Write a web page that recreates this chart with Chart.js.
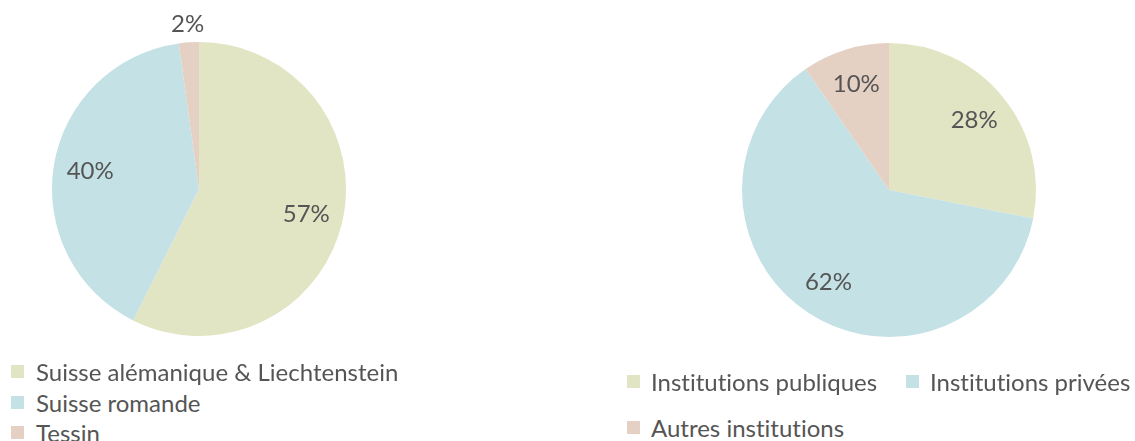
<!DOCTYPE html>
<html><head><meta charset="utf-8">
<script src="https://cdn.jsdelivr.net/npm/chart.js@4"></script>
<style>
html,body{margin:0;padding:0;background:#fff;width:1135px;height:441px;overflow:hidden;font-family:Lato,sans-serif;}
#c1{position:absolute;left:0;top:0;}
#c2{position:absolute;left:700px;top:0;}
.leg{position:absolute;display:flex;align-items:center;font-size:24px;color:#555;white-space:nowrap;height:28px;line-height:28px;font-variant-ligatures:none;font-feature-settings:"liga" 0;}
.leg i{display:inline-block;width:13px;height:13px;flex:none;}
</style></head><body>
<canvas id="c1" width="398" height="378"></canvas>
<canvas id="c2" width="378" height="378"></canvas>
<div id="legends"></div>
<script>
const regionLabels = ['Suisse alémanique & Liechtenstein', 'Suisse romande', 'Tessin'];
const regionValues = [57.4, 40.4, 2.2];
const institutionLabels = ['Institutions publiques', 'Institutions privées', 'Autres institutions'];
const institutionValues = [28.1, 62.3, 9.6];
const sliceColors = ['#e1e5c3', '#c4e1e6', '#e5d1c3'];

const pctLabels = {
  id: 'pctLabels',
  afterDatasetsDraw(chart) {
    const ctx = chart.ctx;
    const meta = chart.getDatasetMeta(0);
    const data = chart.data.datasets[0].data;
    const total = data.reduce((a, b) => a + b, 0);
    ctx.save();
    ctx.font = '24px Lato';
    ctx.fillStyle = '#555555';
    ctx.textAlign = 'center';
    ctx.textBaseline = 'middle';
    meta.data.forEach((arc, i) => {
      const p = arc.getProps(['x', 'y', 'startAngle', 'endAngle', 'outerRadius'], true);
      const mid = (p.startAngle + p.endAngle) / 2;
      const share = data[i] / total;
      const r = p.outerRadius * (share < 0.05 ? 1.125 : 0.75);
      ctx.fillText(Math.round(share * 100) + '%', p.x + Math.cos(mid) * r, p.y + Math.sin(mid) * r);
    });
    ctx.restore();
  }
};

function makePie(id, labels, values, padding) {
  return new Chart(document.getElementById(id), {
    type: 'pie',
    data: { labels: labels, datasets: [{ data: values, backgroundColor: sliceColors, borderWidth: 0 }] },
    options: {
      responsive: false, animation: false,
      layout: { padding: padding },
      plugins: { legend: { display: false }, tooltip: { enabled: false } }
    },
    plugins: [pctLabels]
  });
}
makePie('c1', regionLabels, regionValues, { top: 42, bottom: 42, left: 52, right: 52 });
makePie('c2', institutionLabels, institutionValues, { top: 43, bottom: 41, left: 42, right: 42 });

function addLegend(labels, positions, gap) {
  const host = document.getElementById('legends');
  labels.forEach((t, i) => {
    const d = document.createElement('div');
    d.className = 'leg';
    d.style.left = positions[i][0] + 'px';
    d.style.top = (positions[i][1] - 14) + 'px';
    const box = document.createElement('i');
    box.style.background = sliceColors[i];
    box.style.marginRight = gap + 'px';
    d.appendChild(box);
    d.appendChild(document.createTextNode(t));
    host.appendChild(d);
  });
}
addLegend(regionLabels, [[11, 371.5], [11, 402.5], [11, 432.5]], 12);
addLegend(institutionLabels, [[627, 381.5], [906, 381.5], [627, 427.5]], 11);
</script>
</body></html>
